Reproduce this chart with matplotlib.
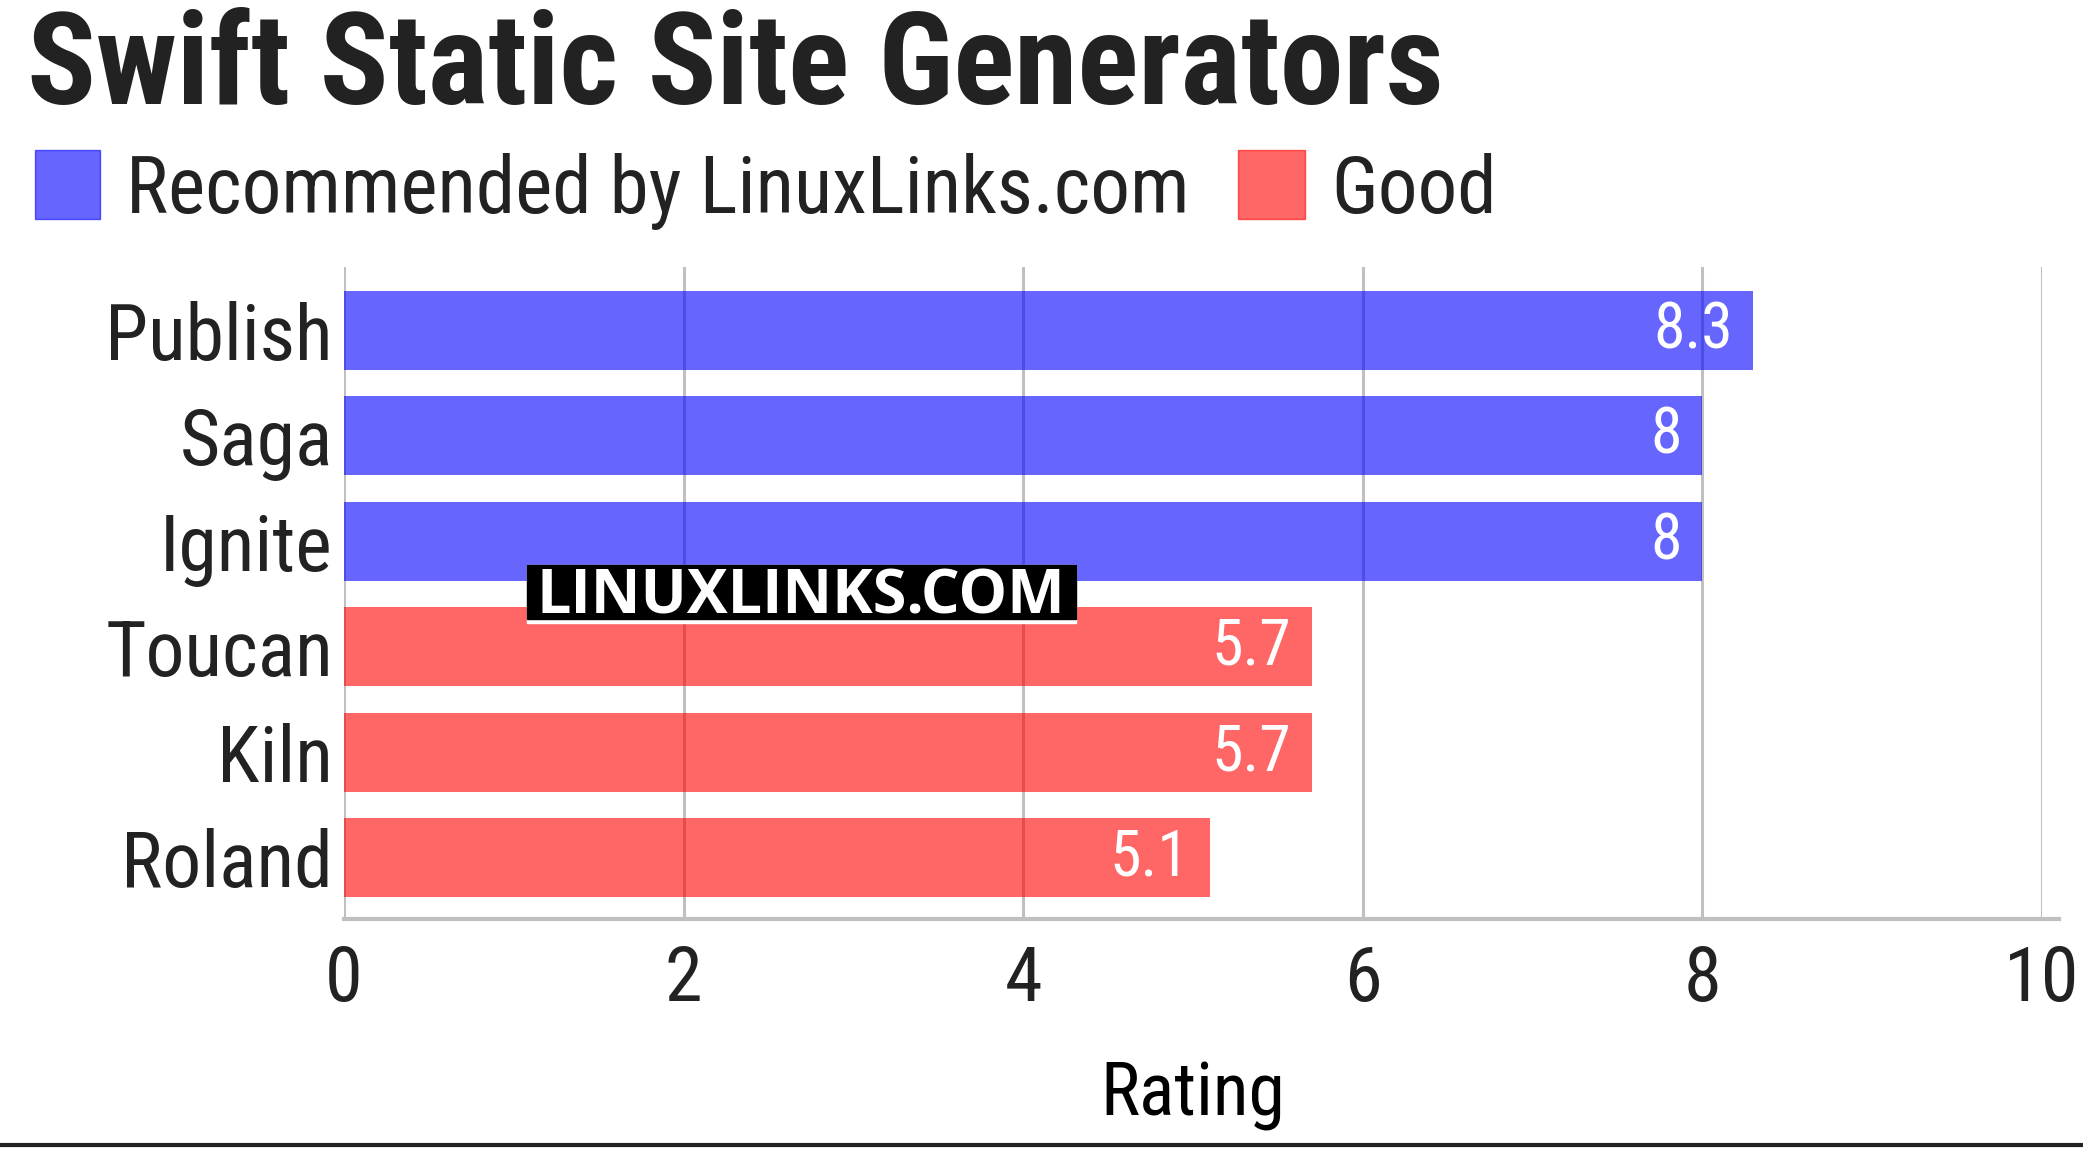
import matplotlib
matplotlib.use('Agg')
import matplotlib.pyplot as plt

names = ['Publish', 'Saga', 'Ignite', 'Toucan', 'Kiln', 'Roland']
ratings = [8.3, 8, 8, 5.7, 5.7, 5.1]
groups = ['rec', 'rec', 'rec', 'good', 'good', 'good']
legend_labels = {'rec': 'Recommended by LinuxLinks.com', 'good': 'Good'}
colors = {'rec': '#0000ff', 'good': '#ff0000'}
xticks = [0, 2, 4, 6, 8, 10]

plt.rcParams['font.family'] = ['Roboto Condensed', 'Liberation Sans Narrow', 'Roboto', 'DejaVu Sans']

W, H = 2083, 1149
fig = plt.figure(figsize=(W / 100, H / 100), dpi=100)
ax = fig.add_axes([344 / W, 1 - 919 / H, (2042 - 344) / W, (919 - 267) / H])

ypos = list(range(len(names)))
bars = ax.barh(ypos, ratings, height=0.75,
               color=[colors[g] for g in groups], alpha=0.6, zorder=3)

for b, v in zip(bars, ratings):
    ax.text(b.get_width() - 0.12, b.get_y() + b.get_height() / 2, f'{v:g}',
            ha='right', va='center', color='white', fontsize=46, zorder=4)

ax.set_ylim(len(names) - 0.42, -0.6)
ax.set_xlim(0, 10)
ax.set_yticks(ypos)
ax.set_yticklabels(names, fontsize=56, color='#222222')
ax.set_xticks(xticks)
ax.set_xticklabels([str(t) for t in xticks], fontsize=55, color='#222222')
ax.tick_params(axis='y', length=0, pad=8)
ax.tick_params(axis='x', length=0, pad=18)
ax.grid(axis='x', color='#c0c0c0', linewidth=2.2, zorder=1)
ax.grid(axis='y', visible=False)
for s in ['top', 'right', 'left', 'bottom']:
    ax.spines[s].set_visible(False)
ax.plot([0, 10.1], [len(names) - 0.42] * 2, color='#c0c0c0', linewidth=3,
        clip_on=False, zorder=2)
ax.set_xlabel('Rating', fontsize=53, color='black', labelpad=30)

# title and legend
fig.text(27 / W, 1 - 104 / H, 'Swift Static Site Generators', fontsize=92,
         fontweight='bold', color='#222222', va='baseline', ha='left')
fig.patches.append(plt.Rectangle((35 / W, 1 - 219 / H), 65 / W, 69 / H,
                                 transform=fig.transFigure, color=colors['rec'], alpha=0.6))
fig.text(126 / W, 1 - 213 / H, legend_labels['rec'], fontsize=57,
         color='#222222', va='baseline', ha='left')
fig.patches.append(plt.Rectangle((1238 / W, 1 - 219 / H), 67 / W, 69 / H,
                                 transform=fig.transFigure, color=colors['good'], alpha=0.6))
fig.text(1331 / W, 1 - 213 / H, legend_labels['good'], fontsize=57,
         color='#222222', va='baseline', ha='left')

# watermark
fig.patches.append(plt.Rectangle((527 / W, 1 - 623 / H), 549 / W, 58 / H,
                                 transform=fig.transFigure, color='white', zorder=9))
fig.patches.append(plt.Rectangle((527 / W, 1 - 619 / H), 549 / W, 54 / H,
                                 transform=fig.transFigure, color='black', zorder=9))
fig.text(801 / W, 1 - 613 / H, 'LINUXLINKS.COM', fontsize=44, fontweight='bold',
         family=['Open Sans', 'DejaVu Sans'], color='white', ha='center', va='baseline',
         zorder=10)

# bottom rule
fig.add_artist(plt.Line2D([0, 1], [1 - 1145 / H] * 2, transform=fig.transFigure,
                          color='#222222', linewidth=3))

fig.savefig('out.png', dpi=100)
